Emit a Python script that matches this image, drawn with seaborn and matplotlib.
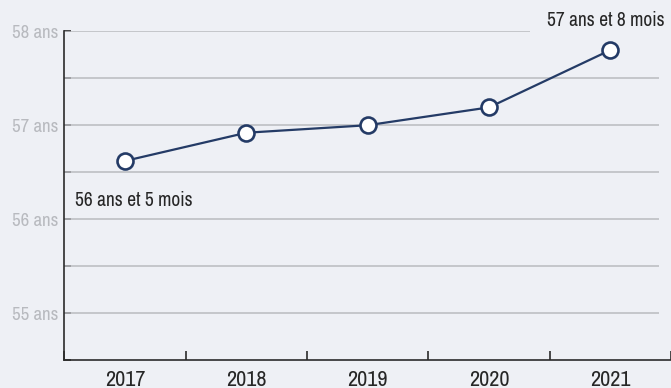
import matplotlib
matplotlib.use("Agg")
import matplotlib.pyplot as plt
from matplotlib import font_manager
import numpy as np
import pandas as pd
import seaborn as sns

# Mean age per year (in years)
years = ["2017", "2018", "2019", "2020", "2021"]
ages = [56.62, 56.92, 57.0, 57.19, 57.8]
y_major = [55, 56, 57, 58]
y_labels = ["55 ans", "56 ans", "57 ans", "58 ans"]
first_label = "56 ans et 5 mois"
last_label = "57 ans et 8 mois"

BG = "#eef0f5"
NAVY = "#243b66"
GRID = "#b9bbbf"
AXIS = "#2b2b2b"
TICKTXT = "#b8babf"
TXT = "#262626"

sns.set_theme(style="white")

# prefer a narrow face when one is installed
names = sorted({f.name for f in font_manager.fontManager.ttflist})
narrow = [n for n in names if ("Condensed" in n or "Narrow" in n)]
stretch_fonts = [f for f in font_manager.fontManager.ttflist
                 if f.stretch in ("condensed", "semi-condensed", "extra-condensed")]
if narrow:
    family = [narrow[0], "DejaVu Sans"]
    stretch = "normal"
elif stretch_fonts:
    family = [stretch_fonts[0].name, "DejaVu Sans"]
    stretch = "condensed"
else:
    family = ["DejaVu Sans"]
    stretch = "normal"
plt.rcParams["font.family"] = family
plt.rcParams["font.stretch"] = stretch
scale = 1.0 if (narrow or stretch_fonts) else 0.8

df = pd.DataFrame({"year": years, "age": ages})

fig = plt.figure(figsize=(6.71, 3.88), dpi=100, facecolor=BG)
ax = fig.add_axes([0.0961, 0.0722, 0.9039, 0.8471])
ax.set_facecolor(BG)

# horizontal guide lines every half year
for v in np.arange(55, 58.01, 0.5):
    x_end = 3.34 if v == 58 else 4.40
    ax.hlines(v, -0.5, x_end, color=GRID, lw=1.1, zorder=1)

sns.pointplot(data=df, x="year", y="age", ax=ax, color=NAVY,
              markers="o", linewidth=1.6, markersize=11.5,
              markerfacecolor="white", markeredgecolor=NAVY,
              markeredgewidth=1.9, zorder=3)

ax.set_xlim(-0.5, 4.5)
ax.set_ylim(54.5, 58)

ax.set_yticks(y_major)
ax.set_yticklabels(y_labels)
ax.set_yticks(np.arange(54.5, 58.01, 0.5), minor=True)
ax.tick_params(axis="y", which="both", direction="in", length=5, width=1.2,
               color=AXIS, left=True, pad=4.5, labelsize=13.5 * scale,
               labelcolor=TICKTXT)

ax.set_xticks(range(len(years)))
ax.set_xticklabels(years)
ax.set_xticks(np.arange(-0.5, 4.6, 1.0), minor=True)
ax.tick_params(axis="x", which="major", length=0, pad=7, labelsize=16 * scale,
               labelcolor=TXT)
ax.tick_params(axis="x", which="minor", direction="in", length=6.5, width=1.2,
               color=AXIS, bottom=True)

ax.set_xlabel("")
ax.set_ylabel("")
for side in ["top", "right"]:
    ax.spines[side].set_visible(False)
for side in ["left", "bottom"]:
    ax.spines[side].set_color(AXIS)
    ax.spines[side].set_linewidth(1.2)

ax.annotate(first_label, xy=(0, ages[0]), xytext=(6.5, -28.5),
            textcoords="offset points", ha="center", va="center",
            fontsize=14 * scale, color=TXT)
ax.annotate(last_label, xy=(4, ages[-1]), xytext=(-3.5, 21.5),
            textcoords="offset points", ha="center", va="center",
            fontsize=14 * scale, color=TXT, annotation_clip=False)

fig.savefig("out.png", dpi=100, facecolor=BG)
